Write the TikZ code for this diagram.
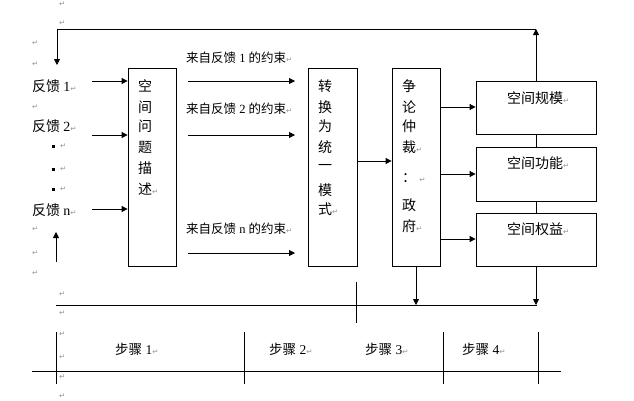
\documentclass[tikz,border=0pt]{standalone}
\usepackage{fontspec}
\setmainfont{Liberation Serif}
\newfontfamily\cjk{Noto Sans CJK SC}
\newfontfamily\symf{DejaVu Sans}
\usetikzlibrary{arrows.meta,calc}
\newcommand\pmk{{\symf\fontsize{7.5}{7.5}\selectfont\color{black!40}↵}}
\tikzset{
  box/.style={draw, line width=0.8pt, inner sep=0pt, rectangle},
  ln/.style={line width=0.8pt},
  arr/.style={line width=0.8pt, -{Triangle[length=6pt,width=6pt]}},
  big/.style={inner sep=0pt, anchor=west, font=\cjk\fontsize{14}{16}\selectfont},
  lab/.style={inner sep=0pt, anchor=west, font=\fontsize{12.5}{15}\selectfont},
  stp/.style={inner sep=0pt, anchor=west, font=\fontsize{13.5}{15}\selectfont},
  mk/.style={inner sep=0pt, anchor=west}
}
\begin{document}
\begin{tikzpicture}[x=1pt,y=-1pt]
\useasboundingbox (0,0) rectangle (634,400);
% boxes
\node[box, minimum width=48pt, minimum height=198pt] (b1) at (152,167) {};
\node[box, minimum width=49pt, minimum height=198pt] (b2) at (332.5,167) {};
\node[box, minimum width=48pt, minimum height=198pt] (b3) at (416,167) {};
\node[box, minimum width=120pt, minimum height=53pt] (r1) at (536,107.5) {};
\node[box, minimum width=120pt, minimum height=54pt] (r2) at (536,174) {};
\node[box, minimum width=120pt, minimum height=53pt] (r3) at (536,239.5) {};
% box texts
\foreach \c/\y [count=\i] in {空/86,间/107,问/126,题/147,描/168,述\pmk/189}
  \node[big] (t1\i) at (138,\y) {\c};
\foreach \c/\y [count=\i] in {转/86,换/107,为/126,统/147,一/167,模/190,式\pmk/209}
  \node[big] (t2\i) at (318,\y) {\c};
\foreach \c/\y [count=\i] in {争/86,论/107,仲/126,裁\pmk/147,：\ \pmk/178,政/205,府\pmk/226}
  \node[big] (t3\i) at (402,\y) {\c};
\node[big] (rt1) at (507,98) {空间规模\pmk};
\node[big] (rt2) at (507,163) {空间功能\pmk};
\node[big] (rt3) at (507,229) {空间权益\pmk};
% left feedback labels
\node[big] (fb1) at (32,86) {反馈 {\rmfamily 1}\pmk};
\node[big] (fb2) at (32,126) {反馈 {\rmfamily 2}\pmk};
\node[big] (fbn) at (32,210) {反馈 {\rmfamily n}\pmk};
\foreach \y [count=\i] in {146,169,189}{
  \node[fill, minimum size=3pt, inner sep=0pt] (d\i) at (53,\y) {};
  \node[mk] (dm\i) at (60,\y) {\pmk};
}
% constraint labels
\node[lab] (l1) at (186,58) {{\cjk 来自反馈} 1 {\cjk 的约束}\pmk};
\node[lab] (l2) at (186,109) {{\cjk 来自反馈} 2 {\cjk 的约束}\pmk};
\node[lab] (ln) at (186,229) {{\cjk 来自反馈} n {\cjk 的约束}\pmk};
% paragraph marks
\foreach \x/\y [count=\i] in {59/4,59/23,32/43,32/64,32/107,32/229,32/253,32/273,
  59/294,59/313,59/334,59/357,59/377,59/396}
  \node[mk] (pm\i) at (\x,\y) {\pmk};
% coordinates
\coordinate (topR) at (536,29);
\coordinate (topL) at (57,29);
\coordinate (fbtip) at (57,65);
\coordinate (upB) at (56,262);
\coordinate (upT) at (56,232);
\coordinate (a1s) at (92,81);
\coordinate (a2s) at (92,135);
\coordinate (ans) at (92,209);
\coordinate (c1s) at (188,81);   \coordinate (c1e) at (295,81);
\coordinate (c2s) at (188,135);  \coordinate (c2e) at (295,135);
\coordinate (cns) at (188,253);  \coordinate (cne) at (295,253);
\coordinate (botL) at (56,305);
\coordinate (botR) at (537,305);
\coordinate (tickT) at (356,282);
\coordinate (tickB) at (356,323);
% connectors
\draw[arr] (r1.north) -- (topR);
\draw[arr] (topR) -- (topL) -- (fbtip);
\draw[arr] (upB) -- (upT);
\draw[arr] (a1s) -- (a1s -| b1.west);
\draw[arr] (a2s) -- (a2s -| b1.west);
\draw[arr] (ans) -- (ans -| b1.west);
\draw[arr] (c1s) -- (c1e);
\draw[arr] (c2s) -- (c2e);
\draw[arr] (cns) -- (cne);
\draw[arr] (b2.east |- 0,161) -- (b3.west |- 0,161);
\draw[arr] (b3.east |- 0,107) -- (r1.west |- 0,107);
\draw[arr] (b3.east |- 0,174) -- (r2.west |- 0,174);
\draw[arr] (b3.east |- 0,239) -- (r3.west |- 0,239);
\draw[ln] (r1.south) -- (r2.north);
\draw[ln] (r2.south) -- (r3.north);
\draw[ln] (botL) -- (botR);
\draw[arr] (b3.south) -- (b3.south |- 0,305);
\draw[arr] (r3.south) -- (r3.south |- 0,305);
\draw[ln] (tickT) -- (tickB);
% steps table
\coordinate (hL) at (32,371);
\coordinate (hR) at (561,371);
\draw[ln] (hL) -- (hR);
\foreach \x [count=\i] in {56,244,443,538}
  \draw[ln] (\x,332) coordinate (v\i t) -- (\x,384) coordinate (v\i b);
\node[stp] (s1) at (115,349) {{\cjk 步骤} 1\pmk};
\node[stp] (s2) at (269,349) {{\cjk 步骤} 2\pmk};
\node[stp] (s3) at (365,349) {{\cjk 步骤} 3\pmk};
\node[stp] (s4) at (462,349) {{\cjk 步骤} 4\pmk};
\end{tikzpicture}
\end{document}
